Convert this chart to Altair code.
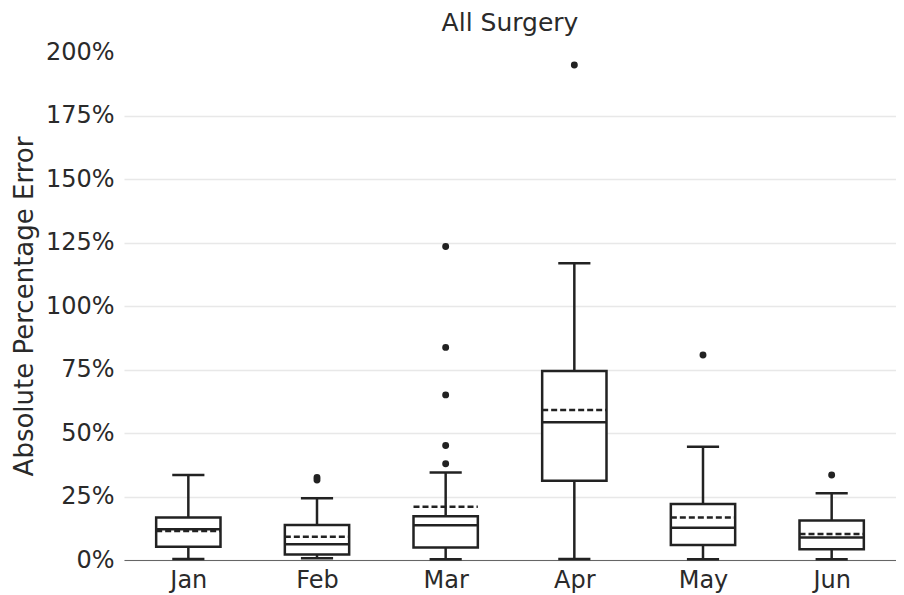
import altair as alt
import pandas as pd

months = ["Jan", "Feb", "Mar", "Apr", "May", "Jun"]
lower = [0.4, 0.7, 0.3, 0.4, 0.3, 0.3]
q1 = [5.2, 2.2, 4.9, 31.2, 5.9, 4.2]
median = [12.1, 6.2, 13.7, 54.2, 12.7, 8.9]
mean = [11.4, 9.2, 21.0, 59.1, 16.7, 10.2]
q3 = [16.7, 13.8, 17.2, 74.4, 22.0, 15.6]
upper = [33.5, 24.3, 34.4, 116.8, 44.6, 26.3]

outlier_month = ["Feb", "Feb", "Mar", "Mar", "Mar", "Mar", "Mar", "Apr", "May", "Jun"]
outlier_value = [32.5, 31.5, 123.4, 83.7, 65.0, 45.1, 37.9, 194.9, 80.7, 33.5]

y_ticks = [0, 25, 50, 75, 100, 125, 150, 175, 200]

stats = pd.DataFrame({
    "month": months, "i": list(range(len(months))),
    "lower": lower, "q1": q1, "median": median, "mean": mean, "q3": q3, "upper": upper,
})
outs = pd.DataFrame({"month": outlier_month, "value": outlier_value})
outs["i"] = outs["month"].map({m: k for k, m in enumerate(months)})

INK = "#222222"
TXT = "#2a2a2a"
label_expr = "[" + ",".join("'%s'" % m for m in months) + "][datum.value]"

x_scale = alt.Scale(domain=[-0.5, len(months) - 0.5], nice=False, zero=False)
y_scale = alt.Scale(domain=[0, 200], nice=False)

x_axis = alt.Axis(values=list(range(len(months))), labelExpr=label_expr, title=None,
                  grid=False, ticks=False, domain=True, domainColor="#666666", domainWidth=1,
                  labelFont="DejaVu Sans", labelFontSize=24, labelColor=TXT,
                  labelPadding=8)
y_axis = alt.Axis(values=y_ticks, labelExpr="datum.value + '%'", title="Absolute Percentage Error",
                  grid=True, gridColor="#e8e8e8", gridWidth=1.5,
                  gridOpacity={"condition": {"test": "datum.value >= 200", "value": 0}, "value": 1},
                  ticks=False, domain=False,
                  labelFont="DejaVu Sans", labelFontSize=24, labelColor=TXT, labelPadding=10,
                  titleFont="DejaVu Sans", titleFontSize=26, titleFontWeight="normal",
                  titleColor=TXT, titlePadding=8)

base = alt.Chart(stats).transform_calculate(
    left="datum.i - 0.25", right="datum.i + 0.25",
    cl="datum.i - 0.125", cr="datum.i + 0.125",
)

whisker = base.mark_rule(color=INK, strokeWidth=2.5).encode(
    x=alt.X("i:Q", scale=x_scale, axis=x_axis),
    y=alt.Y("lower:Q", scale=y_scale, axis=y_axis),
    y2="upper:Q",
)
cap_lo = base.mark_rule(color=INK, strokeWidth=2.5).encode(
    x=alt.X("cl:Q", scale=x_scale), x2="cr:Q", y=alt.Y("lower:Q", scale=y_scale))
cap_hi = base.mark_rule(color=INK, strokeWidth=2.5).encode(
    x=alt.X("cl:Q", scale=x_scale), x2="cr:Q", y=alt.Y("upper:Q", scale=y_scale))
box = base.mark_rect(fill="white", stroke=INK, strokeWidth=2.5).encode(
    x=alt.X("left:Q", scale=x_scale), x2="right:Q",
    y=alt.Y("q1:Q", scale=y_scale), y2="q3:Q")
med = base.mark_rule(color=INK, strokeWidth=2.5).encode(
    x=alt.X("left:Q", scale=x_scale), x2="right:Q", y=alt.Y("median:Q", scale=y_scale))
mn = base.mark_rule(color=INK, strokeWidth=2.5, strokeDash=[6, 3]).encode(
    x=alt.X("left:Q", scale=x_scale), x2="right:Q", y=alt.Y("mean:Q", scale=y_scale))
pts = alt.Chart(outs).mark_circle(color=INK, opacity=1, size=48).encode(
    x=alt.X("i:Q", scale=x_scale), y=alt.Y("value:Q", scale=y_scale))

chart = alt.layer(whisker, cap_lo, cap_hi, box, med, mn, pts).properties(
    width=772, height=508,
    title=alt.TitleParams("All Surgery", font="DejaVu Sans", fontSize=25, fontWeight="normal",
                          color=TXT, anchor="middle", frame="group", offset=4),
    autosize=alt.AutoSizeParams(type="none"),
    padding={"left": 116, "top": 44, "right": 0, "bottom": 35},
).configure_view(stroke=None)

chart.save("out.html", embed_options={"renderer": "svg", "actions": False})
